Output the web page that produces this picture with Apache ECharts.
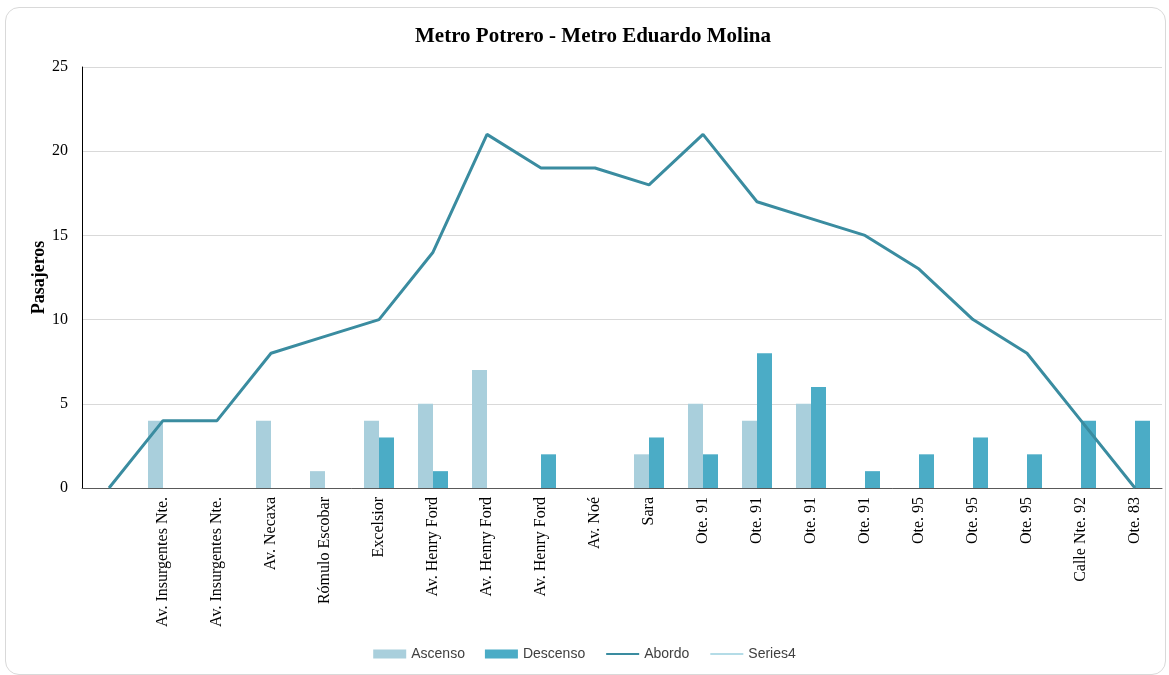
<!DOCTYPE html>
<html><head><meta charset="utf-8">
<script src="https://cdn.jsdelivr.net/npm/echarts@6/dist/echarts.min.js"></script>
<style>
html,body{margin:0;padding:0;background:#fff;}
#frame{position:absolute;left:5px;top:7px;width:1159px;height:666px;border:1px solid #d9d9d9;border-radius:14px;}
#c{position:absolute;left:0;top:0;width:1169px;height:675px;}
</style></head>
<body>
<div id="frame"></div>
<div id="c"></div>
<script>
const categories = ["", "Av. Insurgentes Nte.", "Av. Insurgentes Nte.", "Av. Necaxa", "Rómulo Escobar", "Excelsior", "Av. Henry Ford", "Av. Henry Ford", "Av. Henry Ford", "Av. Noé", "Sara", "Ote. 91", "Ote. 91", "Ote. 91", "Ote. 91", "Ote. 95", "Ote. 95", "Ote. 95", "Calle Nte. 92", "Ote. 83"];
const ascenso = [0, 4, 0, 4, 1, 4, 5, 7, 0, 0, 2, 5, 4, 5, 0, 0, 0, 0, 0, 0];
const descenso = [0, 0, 0, 0, 0, 3, 1, 0, 2, 0, 3, 2, 8, 6, 1, 2, 3, 2, 4, 4];
const abordo = [0, 4, 4, 8, 9, 10, 14, 21, 19, 19, 18, 21, 17, 16, 15, 13, 10, 8, 4, 0];
const series4 = [];
const yTicks = {min: 0, max: 25, interval: 5};

const serif = '"Liberation Serif", "Times New Roman", serif';
const sans = '"Liberation Sans", "Noto Sans", sans-serif';
const hidden = {color: 'rgba(0,0,0,0)', borderColor: 'rgba(0,0,0,0)', borderWidth: 0};

const chart = echarts.init(document.getElementById('c'), null, {renderer: 'canvas'});
chart.setOption({
  backgroundColor: 'transparent',
  animation: false,
  title: {
    text: 'Metro Potrero - Metro Eduardo Molina',
    left: 410, top: 21,
    textStyle: {fontFamily: serif, fontSize: 21, fontWeight: 'bold', color: '#000'}
  },
  legend: {
    bottom: 9, left: 'center',
    itemWidth: 33, itemHeight: 9, itemGap: 20,
    textStyle: {fontFamily: sans, fontSize: 14, color: '#404040'},
    data: [
      {name: 'Ascenso', icon: 'rect'},
      {name: 'Descenso', icon: 'rect'},
      {name: 'Abordo', itemStyle: hidden},
      {name: 'Series4', itemStyle: hidden}
    ]
  },
  grid: {left: 82, right: 7, top: 67, bottom: 187, containLabel: false},
  xAxis: {
    type: 'category',
    data: categories,
    axisLine: {show: true, lineStyle: {color: '#595959', width: 1}},
    axisTick: {show: false},
    axisLabel: {rotate: 90, interval: 0, margin: 9, fontFamily: serif, fontSize: 16, color: '#000'},
    splitLine: {show: false}
  },
  yAxis: {
    type: 'value',
    min: yTicks.min, max: yTicks.max, interval: yTicks.interval,
    name: 'Pasajeros', nameLocation: 'middle', nameGap: 34, nameRotate: 90,
    nameMoveOverlap: false,
    nameTextStyle: {fontFamily: serif, fontSize: 18, fontWeight: 'bold', color: '#000'},
    axisLine: {show: true, lineStyle: {color: '#000', width: 1}},
    axisTick: {show: false},
    axisLabel: {margin: 14, fontFamily: serif, fontSize: 16, color: '#000'},
    splitLine: {show: true, lineStyle: {color: '#d9d9d9', width: 1}}
  },
  series: [
    {name: 'Ascenso', type: 'bar', data: ascenso, barWidth: 15, barGap: '0%',
      itemStyle: {color: '#a9cfdc'}},
    {name: 'Descenso', type: 'bar', data: descenso, barWidth: 15, barGap: '0%',
      itemStyle: {color: '#4bacc6'}},
    {name: 'Abordo', type: 'line', data: abordo, symbol: 'none',
      lineStyle: {color: '#3a8ca0', width: 3}, itemStyle: {color: '#3a8ca0'}},
    {name: 'Series4', type: 'line', data: series4, symbol: 'none',
      lineStyle: {color: '#b4dce7', width: 2.5}, itemStyle: {color: '#b4dce7'}}
  ]
});
</script>
</body></html>
